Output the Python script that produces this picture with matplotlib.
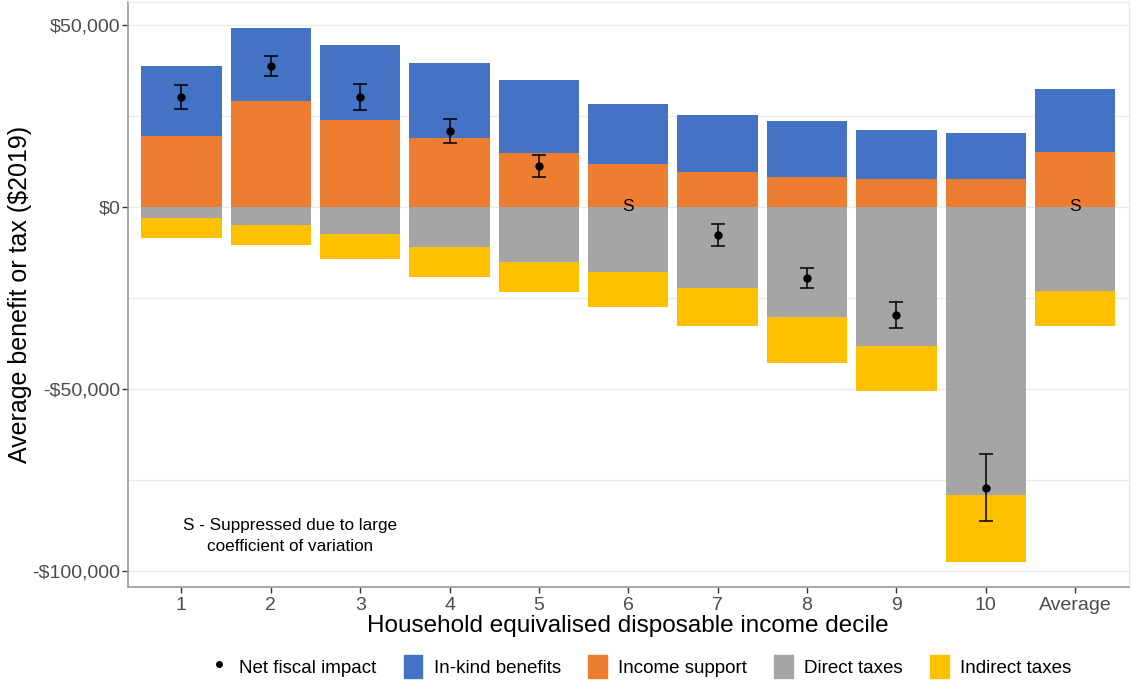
import matplotlib.pyplot as plt
import numpy as np
from matplotlib.lines import Line2D
from matplotlib.patches import Patch

plt.rcParams["font.family"] = ["Liberation Sans", "DejaVu Sans"]

# ------------------------------------------------
# Data (dollars, 2019)
# ------------------------------------------------
deciles = ["1", "2", "3", "4", "5", "6", "7", "8", "9", "10", "Average"]
income_support = [19500, 29100, 23900, 19000, 14800, 11800, 9600, 8200, 7700, 7700, 15100]
in_kind = [19200, 20100, 20600, 20600, 20100, 16500, 15700, 15400, 13500, 12600, 17300]
direct_taxes = [-3000, -4900, -7400, -11000, -15100, -17900, -22300, -30200, -38200, -79100, -23100]
indirect_taxes = [-5500, -5500, -6900, -8200, -8300, -9600, -10400, -12700, -12300, -18400, -9600]
net_impact = [30200, 38700, 30200, 20900, 11300, None, -7700, -19500, -29700, -77200, None]
net_error = [3200, 2700, 3600, 3200, 3000, None, 3000, 2700, 3700, 9200, None]

BLUE = "#4472C4"
ORANGE = "#ED7D31"
GREY = "#A5A5A5"
YELLOW = "#FFC000"


def money(v, pos=None):
    if v < 0:
        return "-${:,.0f}".format(-v)
    return "${:,.0f}".format(v)


fig, ax = plt.subplots(figsize=(11.31, 6.8), dpi=100)
fig.subplots_adjust(left=0.113, right=0.998, top=0.997, bottom=0.137)

x = np.arange(1, len(deciles) + 1)
w = 0.9

ax.bar(x, income_support, w, color=ORANGE, zorder=2)
ax.bar(x, in_kind, w, bottom=income_support, color=BLUE, zorder=2)
ax.bar(x, direct_taxes, w, color=GREY, zorder=2)
ax.bar(x, indirect_taxes, w, bottom=direct_taxes, color=YELLOW, zorder=2)

# net fiscal impact with error bars, "S" where suppressed
for xi, v, e in zip(x, net_impact, net_error):
    if v is None:
        ax.text(xi, 0, "S", ha="center", va="center", fontsize=12.5, zorder=4)
        continue
    ax.errorbar(xi, v, yerr=e, fmt="o", color="black", markersize=5,
                capsize=5, elinewidth=1.1, capthick=1.1, zorder=4)

ax.text(2.22, -90400, "S - Suppressed due to large\ncoefficient of variation",
        ha="center", va="center", fontsize=12.3, linespacing=1.45)

ax.set_xlim(0.4, 11.6)
ax.set_ylim(-104400, 56300)
ax.set_xticks(x)
ax.set_xticklabels(deciles)
ax.set_yticks([-100000, -50000, 0, 50000])
ax.set_yticks([-75000, -25000, 25000], minor=True)
ax.yaxis.set_major_formatter(plt.FuncFormatter(money))
ax.tick_params(axis="both", labelsize=14, colors="#333333", labelcolor="#4D4D4D",
               length=4, width=1, pad=3)
ax.tick_params(axis="y", pad=1.5)
ax.tick_params(axis="y", which="minor", length=0)
ax.grid(axis="y", which="both", color="#EBEBEB", linewidth=1, zorder=0)

for side in ["top", "right"]:
    ax.spines[side].set_color("#EBEBEB")
for side in ["left", "bottom"]:
    ax.spines[side].set_color("#999999")
    ax.spines[side].set_linewidth(1.2)

ax.set_ylabel("Average benefit or tax ($2019)", fontsize=18, labelpad=0)
ax.set_xlabel("Household equivalised disposable income decile", fontsize=17.5, labelpad=1)

handles = [
    Line2D([], [], marker="o", color="black", linestyle="none", markersize=4),
    Patch(color=BLUE),
    Patch(color=ORANGE),
    Patch(color=GREY),
    Patch(color=YELLOW),
]
labels = ["Net fiscal impact", "In-kind benefits", "Income support", "Direct taxes", "Indirect taxes"]
fig.legend(handles, labels, loc="lower center", ncol=5, frameon=False, fontsize=13.5,
           bbox_to_anchor=(0.566, -0.022), handlelength=1.0, handleheight=1.5,
           columnspacing=1.45, handletextpad=0.6)

plt.savefig("out.png", dpi=100)
